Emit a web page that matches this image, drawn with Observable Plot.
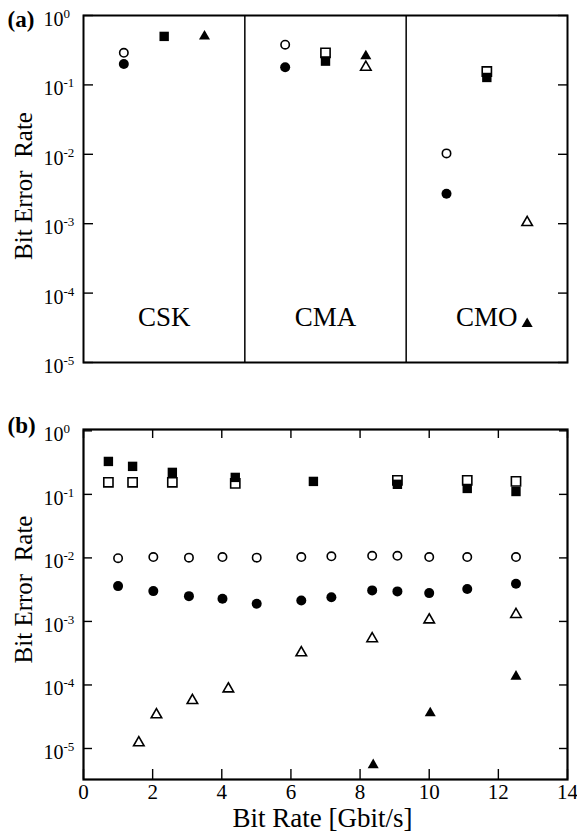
<!DOCTYPE html>
<html><head><meta charset="utf-8">
<script src="https://cdn.jsdelivr.net/npm/d3@7"></script>
<script src="https://cdn.jsdelivr.net/npm/@observablehq/plot@0.6"></script>
<style>
body{margin:0;background:#fff;}
#chart{width:577px;}
svg{display:block;}
</style></head><body><div id="chart"></div>
<script>
// ---------- Panel (a) data ----------
const schemes = ["CSK", "CMA", "CMO"];
const aOpenCircle    = [0.29, 0.38, 0.0103];
const aFilledCircle  = [0.20, 0.18, 0.0027];
const aOpenSquare    = [null, 0.29, 0.156];
const aFilledSquare  = [0.50, 0.22, 0.128];
const aOpenTriangle  = [null, 0.18, 0.00104];
const aFilledTriangle= [0.50, 0.26, 3.6e-5];

// ---------- Panel (b) data ----------
const bFilledSqRate  = [0.72, 1.42, 2.57, 4.39, 6.65, 9.08, 11.10, 12.51];
const bFilledSquare  = [0.33, 0.276, 0.222, 0.185, 0.160, 0.144, 0.124, 0.111];
const bOpenSqRate    = [0.72, 1.42, 2.57, 4.39, 9.08, 11.10, 12.51];
const bOpenSquare    = [0.155, 0.155, 0.155, 0.149, 0.166, 0.166, 0.160];
const bCircleRate    = [1.0, 2.02, 3.05, 4.02, 5.01, 6.30, 7.17, 8.35, 9.08, 10.0, 11.10, 12.51];
const bOpenCircle    = [0.0099, 0.0103, 0.0101, 0.0103, 0.0101, 0.0103, 0.0106, 0.0108, 0.0108, 0.0103, 0.0103, 0.0103];
const bFilledCircle  = [0.00360, 0.00300, 0.00250, 0.00228, 0.00190, 0.00214, 0.00241, 0.00308, 0.00297, 0.00279, 0.00323, 0.00392];
const bOpenTriRate   = [1.60, 2.11, 3.15, 4.19, 6.30, 8.35, 10.0, 12.51];
const bOpenTriangle  = [1.23e-5, 3.4e-5, 5.7e-5, 8.7e-5, 3.21e-4, 5.35e-4, 1.06e-3, 1.29e-3];
const bFilledTriRate = [8.38, 10.03, 12.51];
const bFilledTriangle= [5.5e-6, 3.6e-5, 1.36e-4];

// ---------- ticks / labels ----------
const yTicks = [1, 1e-1, 1e-2, 1e-3, 1e-4, 1e-5];
const xTicks = [0, 2, 4, 6, 8, 10, 12, 14];
const yLabel = "Bit Error\u00a0 Rate";
const xLabel = "Bit Rate [Gbit/s]";

const FONT = "'Liberation Serif', 'Times New Roman', serif";
const W = 577;

const openStyle = {fill: "white", stroke: "black", strokeWidth: 1.6};
const fillStyle = {fill: "black", stroke: "none"};

function yAxes(tickLen) {
  return [
    Plot.axisY({anchor: "left", ticks: yTicks, tickSize: -tickLen, tickFormat: () => "", strokeWidth: 1.4, label: null}),
    Plot.axisY({anchor: "right", ticks: yTicks, tickSize: -tickLen, tickFormat: () => "", strokeWidth: 1.4, label: null}),
    Plot.axisY({anchor: "left", ticks: yTicks, tickSize: 0, tickPadding: 40, textAnchor: "start",
      tickFormat: d => "10^" + Math.round(Math.log10(d)), fontSize: 20, dy: 4, label: null, fill: "black"})
  ];
}

function supLabels(svg) {
  d3.select(svg).selectAll('g[aria-label="y-axis tick label"] text').each(function() {
    const m = /^10\^(-?\d+)$/.exec(this.textContent);
    if (!m) return;
    const sel = d3.select(this);
    sel.text("");
    sel.append("tspan").text("10");
    sel.append("tspan").attr("font-size", 13).attr("dy", -8).text(m[1]);
  });
}

// ---------- Panel (a) ----------
const idx = schemes.map((_, i) => i);
const pick = (arr, off) => idx.filter(i => arr[i] != null).map(i => ({x: i + off, y: arr[i]}));

const plotA = Plot.plot({
  width: W, height: 400,
  marginLeft: 83, marginRight: 10, marginTop: 15, marginBottom: 38,
  style: {fontFamily: FONT, color: "black", background: "white"},
  x: {domain: [0, 3], axis: null},
  y: {type: "log", domain: [1e-5, 1]},
  marks: [
    Plot.ruleX([1, 2], {stroke: "black", strokeWidth: 1.5}),
    ...yAxes(10),
    Plot.dot(pick(aOpenCircle, 0.25), {x: "x", y: "y", r: 4.2, ...openStyle}),
    Plot.dot(pick(aFilledCircle, 0.25), {x: "x", y: "y", r: 5, ...fillStyle}),
    Plot.dot(pick(aOpenSquare, 0.5), {x: "x", y: "y", r: 5.2, symbol: "square", ...openStyle}),
    Plot.dot(pick(aFilledSquare, 0.5), {x: "x", y: "y", r: 5.3, symbol: "square", ...fillStyle}),
    Plot.dot(pick(aOpenTriangle, 0.75), {x: "x", y: "y", r: 3.9, symbol: "triangle", ...openStyle}),
    Plot.dot(pick(aFilledTriangle, 0.75), {x: "x", y: "y", r: 4.1, symbol: "triangle", ...fillStyle}),
    Plot.text(schemes, {x: (d, i) => i + 0.5, y: () => 4.5e-5, text: d => d, fontSize: 27, fill: "black"}),
    Plot.text([yLabel], {frameAnchor: "left", textAnchor: "middle", lineAnchor: "middle", rotate: -90, dx: -60, dy: -3, fontSize: 25, fill: "black"}),
    Plot.text(["(a)"], {frameAnchor: "top-left", textAnchor: "start", lineAnchor: "middle", dx: -76, dy: 4, fontSize: 23, fontWeight: "bold", fill: "black"}),
    Plot.frame({stroke: "black", strokeWidth: 2})
  ]
});
supLabels(plotA);

// ---------- Panel (b) ----------
const plotB = Plot.plot({
  width: W, height: 438,
  marginLeft: 83, marginRight: 10, marginTop: 29, marginBottom: 59,
  style: {fontFamily: FONT, color: "black", background: "white"},
  x: {domain: [0, 14]},
  y: {type: "log", domain: [3.25e-6, 1.05]},
  marks: [
    Plot.axisX({anchor: "bottom", ticks: xTicks, tickSize: -10, tickFormat: () => "", strokeWidth: 1.4, label: null}),
    Plot.axisX({anchor: "top", ticks: xTicks, tickSize: -8, tickFormat: () => "", strokeWidth: 1.4, label: null}),
    Plot.axisX({anchor: "bottom", ticks: xTicks, tickSize: 0, tickPadding: 5, fontSize: 21, label: null, fill: "black"}),
    ...yAxes(9),
    Plot.dot(bOpenSquare, {x: bOpenSqRate, y: bOpenSquare, r: 5.2, symbol: "square", ...openStyle}),
    Plot.dot(bFilledSquare, {x: bFilledSqRate, y: bFilledSquare, r: 5.3, symbol: "square", ...fillStyle}),
    Plot.dot(bOpenCircle, {x: bCircleRate, y: bOpenCircle, r: 4.2, ...openStyle}),
    Plot.dot(bFilledCircle, {x: bCircleRate, y: bFilledCircle, r: 5, ...fillStyle}),
    Plot.dot(bOpenTriangle, {x: bOpenTriRate, y: bOpenTriangle, r: 3.9, symbol: "triangle", ...openStyle}),
    Plot.dot(bFilledTriangle, {x: bFilledTriRate, y: bFilledTriangle, r: 4.1, symbol: "triangle", ...fillStyle}),
    Plot.text([yLabel], {frameAnchor: "left", textAnchor: "middle", lineAnchor: "middle", rotate: -90, dx: -60, dy: -15, fontSize: 25, fill: "black"}),
    Plot.text([xLabel], {frameAnchor: "bottom", textAnchor: "middle", lineAnchor: "middle", dy: 39, dx: -3, fontSize: 27, fill: "black"}),
    Plot.text(["(b)"], {frameAnchor: "top-left", textAnchor: "start", lineAnchor: "middle", dx: -76, dy: -4, fontSize: 23, fontWeight: "bold", fill: "black"}),
    Plot.frame({stroke: "black", strokeWidth: 2.2})
  ]
});
supLabels(plotB);

document.getElementById("chart").append(plotA, plotB);
</script>
</body></html>
